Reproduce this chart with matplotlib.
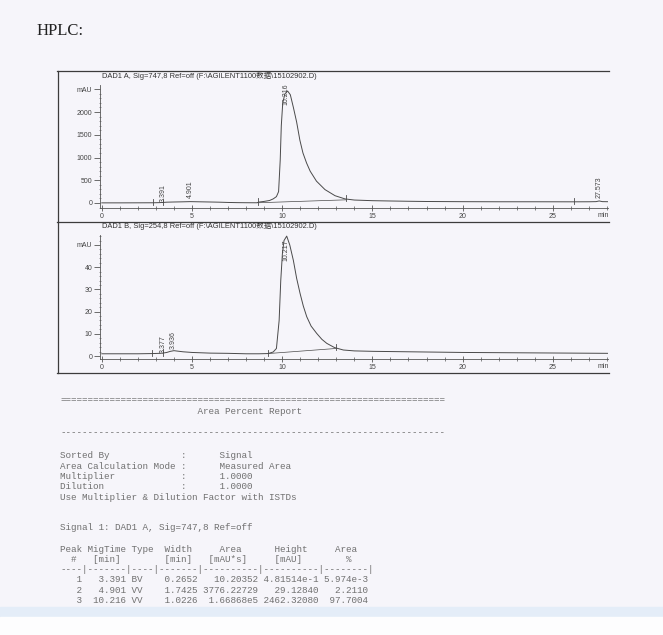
import matplotlib.pyplot as plt
from matplotlib.lines import Line2D
from matplotlib.patches import Rectangle
from matplotlib.ticker import MultipleLocator, FixedLocator

# =====================================
# Data
# =====================================

# DAD1 A, Sig=747,8  (time in min, signal in mAU)
time_a = [0, 1, 2, 2.85, 3.2, 3.39, 3.6, 4.0, 4.5, 4.9, 5.3, 6.0, 6.5, 7.0,
          7.5, 8.0, 8.6, 8.7, 9.0, 9.3, 9.5, 9.68, 9.8, 9.89, 9.95, 10.03,
          10.15, 10.3, 10.45, 10.62, 10.8, 10.98, 11.15, 11.35, 11.55, 11.9,
          12.37, 12.93, 13.48, 14.0, 15.0, 16.0, 17.0, 18.0, 20.0,
          22.0, 24.0, 26.0, 26.2, 27.0, 27.4, 27.57, 27.75, 28.1]
mau_a = [3, 3, 4, 5, 8, 12, 18, 22, 26, 30, 27, 22, 18, 12,
         8, 6, 5, 20, 35, 55, 90, 140, 250, 945, 1700, 2200,
         2400, 2462, 2380, 2100, 1780, 1380, 1100, 880, 700, 480,
         295, 160, 90, 65, 51, 44, 38, 33, 29,
         27, 27, 26, 26, 27, 30, 45, 30, 28]
peaks_a = [3.391, 4.901, 10.216, 27.573]
marks_a = [2.85, 3.39, 8.65, 13.56, 26.2]
base_a_t = [8.65, 13.56]
base_a_v = [5, 70]

# DAD1 B, Sig=254,8
time_b = [0, 1, 2, 2.81, 3.2, 3.38, 3.6, 3.8, 4.0, 4.2, 4.5, 5.0, 6.0, 7.0,
          8.0, 8.7, 9.22, 9.5, 9.68, 9.83, 9.92, 10.01, 10.1, 10.25, 10.42,
          10.62, 10.8, 10.99, 11.17, 11.36, 11.6, 11.91, 12.2, 12.47, 12.9,
          13.39, 14.0, 15.04, 17.0, 20.0, 24.0, 28.1]
mau_b = [1.0, 1.0, 1.0, 1.1, 1.2, 1.3, 1.6, 2.1, 2.4, 2.2, 1.9, 1.6, 1.3, 1.2,
         1.0, 1.0, 1.1, 1.8, 3.4, 16, 34, 46, 52, 54, 50,
         43, 35, 28.2, 22.5, 17.7, 13.5, 10.2, 7.5, 5.7, 3.8,
         2.7, 2.3, 2.1, 1.9, 1.6, 1.4, 1.2]
peaks_b = [3.377, 3.936, 10.217]
marks_b = [2.81, 3.39, 9.22, 13.0]
base_b_t = [9.22, 13.0]
base_b_v = [1.1, 3.4]

# Area percent report, signal 1
peak_no = [1, 2, 3]
mig_time = [3.391, 4.901, 10.216]
peak_type = ["BV", "VV", "VV"]
peak_width = [0.2652, 1.7425, 1.0226]
peak_area = ["10.20352", "3776.22729", "1.66868e5"]
peak_height = ["4.81514e-1", "29.12840", "2462.32080"]
area_pct = ["5.974e-3", "2.2110", "97.7004"]

# =====================================
# Figure
# =====================================

W, H = 663, 635
fig = plt.figure(figsize=(W / 100, H / 100), dpi=100, facecolor="#f6f5fa")


def fx(px):
    return px / W


def fy(py):
    return 1 - py / H


ink = "#4a4a4a"
sans = ["Liberation Sans", "Noto Sans CJK SC"]
mono = "Liberation Mono"

fig.text(fx(37), fy(31), "HPLC:", family="Liberation Serif", fontsize=12,
         color="#222222", va="center", ha="left")

# outer frame of the chromatogram block
for x0, y0, x1, y1 in [(57.5, 71, 57.5, 373), (57, 71, 609, 71),
                       (57, 221.5, 609, 221.5), (57, 373, 609, 373)]:
    fig.add_artist(Line2D([fx(x0), fx(x1)], [fy(y0), fy(y1)],
                          color="#3c3c3c", lw=0.9))


def chrom(ax, t, v, ylim, major, minor, labels, marks, base_t, base_v,
          peaks, label_y, title, title_y):
    ax.set_facecolor("none")
    ax.plot(t, v, color=ink, lw=0.7)
    ax.plot(base_t, base_v, color=ink, lw=0.5)
    span = ylim[1] - ylim[0]
    for m in marks:
        i = min(range(len(t)), key=lambda k: abs(t[k] - m))
        ax.plot([m, m], [v[i] - span * 0.02, v[i] + span * 0.03],
                color=ink, lw=0.6)
    for p, ly in zip(peaks, label_y):
        ax.text(p, ly, f"{p:.3f}", rotation=90, ha="center", va="bottom",
                family=sans, fontsize=5, color="#444444")
    ax.set_xlim(-0.1, 28.06)
    ax.set_ylim(*ylim)
    for s in ["top", "right"]:
        ax.spines[s].set_visible(False)
    for s in ["left", "bottom"]:
        ax.spines[s].set_color("#555555")
        ax.spines[s].set_linewidth(0.6)
    ax.xaxis.set_major_locator(FixedLocator([0, 5, 10, 15, 20, 25]))
    ax.xaxis.set_minor_locator(MultipleLocator(1))
    ax.yaxis.set_major_locator(FixedLocator(major))
    ax.yaxis.set_minor_locator(MultipleLocator(minor))
    ax.set_yticklabels(labels)
    ax.tick_params(axis="x", which="major", direction="inout", length=5,
                   width=0.6, color="#555555", labelsize=5,
                   labelcolor="#444444", pad=1)
    ax.tick_params(axis="x", which="minor", direction="inout", length=3,
                   width=0.5, color="#555555")
    ax.tick_params(axis="y", which="major", direction="out", length=4.5,
                   width=0.6, color="#555555", labelsize=5,
                   labelcolor="#444444", pad=1)
    ax.tick_params(axis="y", which="minor", direction="inout", length=2,
                   width=0.4, color="#555555")
    for lab in ax.get_xticklabels() + ax.get_yticklabels():
        lab.set_family(sans)
    fig.text(fx(102), fy(title_y), title, family=sans, fontsize=5.4,
             color="#333333", va="center", ha="left")


ax_a = fig.add_axes([fx(100), fy(208), fx(608) - fx(100), fy(85) - fy(208)])
chrom(ax_a, time_a, mau_a, (-110, 2594), [0, 500, 1000, 1500, 2000, 2500], 100,
      ["0", "500", "1000", "1500", "2000", "mAU"], marks_a, base_a_t, base_a_v,
      peaks_a, [25, 110, 2150, 110],
      "DAD1 A, Sig=747,8 Ref=off (F:\\AGILENT1100数据\\15102902.D)", 76)
fig.text(fx(603), fy(215), "min", family=sans, fontsize=5, color="#444444",
         ha="center", va="center")

ax_b = fig.add_axes([fx(100), fy(359), fx(608) - fx(100), fy(235) - fy(359)])
chrom(ax_b, time_b, mau_b, (-1.35, 54.5), [0, 10, 20, 30, 40, 50], 2,
      ["0", "10", "20", "30", "40", "mAU"], marks_b, base_b_t, base_b_v,
      peaks_b, [1.5, 3.2, 43],
      "DAD1 B, Sig=254,8 Ref=off (F:\\AGILENT1100数据\\15102902.D)", 226)
fig.text(fx(603), fy(367), "min", family=sans, fontsize=5, color="#444444",
         ha="center", va="center")

# =====================================
# Area percent report text
# =====================================

rows = []
for n, rt, ty, wd, ar, hg, pc in zip(peak_no, mig_time, peak_type, peak_width,
                                      peak_area, peak_height, area_pct):
    rows.append(f"{n:4d} {rt:7.3f} {ty:<4} {wd:7.4f} {ar:>10} {hg:>10} {pc:>8}")

report = [
    (400, "=" * 70),
    (411, " " * 25 + "Area Percent Report"),
    (433, "-" * 70),
    (456, "Sorted By             :      Signal"),
    (466.3, "Area Calculation Mode :      Measured Area"),
    (476.6, "Multiplier            :      1.0000"),
    (486.9, "Dilution              :      1.0000"),
    (497.2, "Use Multiplier & Dilution Factor with ISTDs"),
    (528, "Signal 1: DAD1 A, Sig=747,8 Ref=off"),
    (549, "Peak MigTime Type  Width     Area      Height     Area  "),
    (559.3, "  #   [min]        [min]   [mAU*s]     [mAU]        %   "),
    (569.6, "----|-------|----|-------|----------|----------|--------|"),
    (579.9, rows[0]),
    (590.2, rows[1]),
    (600.5, rows[2]),
]
for y, line in report:
    fig.text(fx(60), fy(y), line, family=mono, fontsize=6.7, color="#707070",
             ha="left", va="center")

# light blue band across the bottom of the scan, hiding part of the last row
fig.add_artist(Rectangle((0, fy(617)), 1, fy(607) - fy(617),
                         transform=fig.transFigure, color="#e4edf8", zorder=5))
fig.add_artist(Rectangle((0, 0), 1, fy(617), transform=fig.transFigure,
                         color="#fdfdfe", zorder=5))

fig.savefig("out.png", dpi=100, facecolor=fig.get_facecolor())
